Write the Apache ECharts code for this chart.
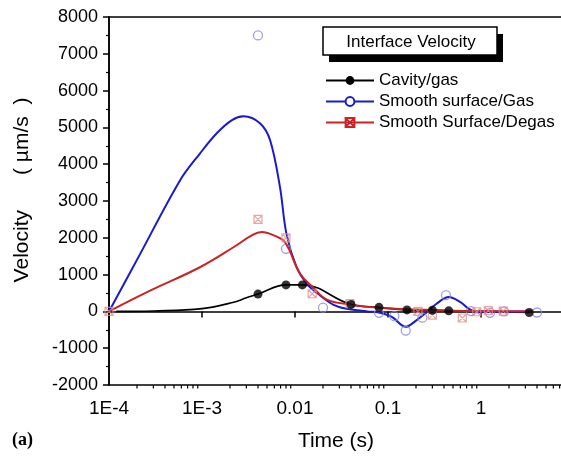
<!DOCTYPE html>
<html>
<head>
<meta charset="utf-8">
<script src="https://cdn.jsdelivr.net/npm/echarts@6/dist/echarts.min.js"></script>
<style>
  html, body { margin: 0; padding: 0; background: #fff; }
  #chart { width: 561px; height: 458px; }
</style>
</head>
<body>
<div id="chart"></div>
<script>
// Tick labels of the logarithmic time axis
const xTickValues = [1e-4, 1e-3, 0.01, 0.1, 1];
const xTickLabels = ['1E-4', '1E-3', '0.01', '0.1', '1'];
const minorMultipliers = [2, 3, 4, 5, 6, 7, 8, 9];
const minorDecades = [1e-4, 1e-3, 0.01, 0.1, 1];

// Cavity/gas: smooth rise, then measured points joined by the line
const cavityLead = [[1.2e-4, 0], [3e-4, 12], [1e-3, 75], [2.2e-3, 250], [3e-3, 370]];
const cavityPts = [[0.004, 470], [0.008, 720], [0.012, 720], [0.04, 190], [0.08, 110],
                   [0.16, 40], [0.3, 30], [0.45, 15], [3.3, -30]];

// Smooth surface/Gas: fitted curve and measured points
const gasFit = [[1e-4, 0], [2.15e-4, 1550], [5.8e-4, 3560], [9.5e-4, 4290], [1.44e-3, 4840],
                [2.1e-3, 5200], [2.8e-3, 5300], [4.2e-3, 5110], [5.4e-3, 4650], [6.9e-3, 3370],
                [8.1e-3, 2100], [0.0104, 1200], [0.0134, 750], [0.0186, 435], [0.026, 180],
                [0.036, 73], [0.06, 0], [0.08, -30], [0.11, -150], [0.155, -420], [0.2, -250],
                [0.25, -60], [0.33, 200], [0.45, 390], [0.6, 250], [0.75, 60], [0.9, -20],
                [1.3, -10], [2, 0], [3.5, 0]];
const gasPts = [[0.004, 7500], [0.008, 1700], [0.02, 100], [0.08, -40], [0.117, -130],
                [0.155, -520], [0.234, -170], [0.42, 440], [0.78, 10], [1.25, -40],
                [1.77, 0], [4, -30]];

// Smooth Surface/Degas: fitted curve and measured points
const degasFit = [[1e-4, 0], [2.8e-4, 570], [9.5e-4, 1200], [2.2e-3, 1750], [3.5e-3, 2080],
                  [4.4e-3, 2155], [5.9e-3, 2065], [7.8e-3, 1880], [0.0113, 1030], [0.0157, 650],
                  [0.022, 320], [0.039, 190], [0.08, 100], [0.2, 50], [0.5, 20], [1, 10], [3.5, 0]];
const degasPts = [[1e-4, 0], [0.004, 2500], [0.008, 2000], [0.0153, 480], [0.039, 210],
                  [0.21, 0], [0.3, -100], [0.63, -180], [0.9, -10], [1.2, 20], [1.73, 10]];

const FONT = "'Liberation Sans', Arial, sans-serif";
const crossSquare = 'path://M0,0H10V10H0Z M0,0L10,10 M10,0L0,10';

const minorTicks = [];
minorDecades.forEach(d => minorMultipliers.forEach(m => minorTicks.push([d * m, 0])));

const chart = echarts.init(document.getElementById('chart'), null, { renderer: 'canvas' });

chart.setOption({
  animation: false,
  backgroundColor: '#fff',
  grid: {
    left: 109, top: 17, width: 558, bottom: 73,
    outerBoundsMode: 'none', containLabel: false,
    show: true, borderColor: '#000', borderWidth: 1.5
  },
  xAxis: {
    type: 'log', logBase: 10, min: 1e-4, max: 100, splitNumber: 6,
    axisLine: { lineStyle: { color: '#000', width: 1.5 } },
    axisTick: { length: 6, lineStyle: { color: '#000', width: 1.5 } },
    splitLine: { show: false },
    axisLabel: {
      color: '#000', fontFamily: FONT, fontSize: 19, margin: 14,
      formatter: v => {
        const i = xTickValues.findIndex(t => Math.abs(Math.log10(t) - Math.log10(v)) < 1e-6);
        return i >= 0 ? xTickLabels[i] : '';
      }
    }
  },
  yAxis: {
    type: 'value', min: -2000, max: 8000, interval: 1000,
    axisLine: { show: true, lineStyle: { color: '#000', width: 1.5 } },
    axisTick: { show: true, length: 6, lineStyle: { color: '#000', width: 1.5 } },
    minorTick: { show: true, splitNumber: 2, length: 3, lineStyle: { color: '#000', width: 1.2 } },
    splitLine: { show: false },
    axisLabel: { color: '#000', fontFamily: FONT, fontSize: 18, margin: 11, formatter: v => String(v) }
  },
  legend: {
    orient: 'vertical', left: 325, top: 72, padding: 0,
    itemWidth: 48, itemHeight: 11, itemGap: 4,
    textStyle: { color: '#000', fontFamily: FONT, fontSize: 17 },
    data: ['Cavity/gas', 'Smooth surface/Gas', 'Smooth Surface/Degas']
  },
  graphic: [
    { type: 'rect', shape: { x: 329, y: 34, width: 174, height: 28 }, style: { fill: '#000' }, z: 100 },
    { type: 'rect', shape: { x: 323, y: 27, width: 174, height: 28 },
      style: { fill: '#fff', stroke: '#000', lineWidth: 1.5 }, z: 101 },
    { type: 'text', x: 411, y: 42, z: 102,
      style: { text: 'Interface Velocity', fill: '#000', font: '17px ' + FONT, align: 'center', verticalAlign: 'middle' } },
    { type: 'text', x: 22, y: 190, rotation: Math.PI / 2,
      style: { text: 'Velocity      ( \u00b5m/s  )', fill: '#000', font: '21px ' + FONT, align: 'center', verticalAlign: 'middle' } },
    { type: 'text', x: 336, y: 441,
      style: { text: 'Time (s)', fill: '#000', font: '21px ' + FONT, align: 'center', verticalAlign: 'middle' } },
    { type: 'text', x: 12, y: 440,
      style: { text: '(a)', fill: '#000', font: "bold 18px 'Liberation Serif', 'Times New Roman', serif", align: 'left', verticalAlign: 'middle' } }
  ],
  series: [
    {
      name: 'Cavity/gas', type: 'line', smooth: 0.4, showSymbol: false,
      symbol: 'circle', symbolSize: 9,
      itemStyle: { color: '#000' }, lineStyle: { color: '#000', width: 1.6 },
      data: cavityLead.concat(cavityPts), z: 3
    },
    {
      name: 'Cavity/gas', type: 'scatter', symbol: 'circle', symbolSize: 9,
      itemStyle: { color: '#000' }, data: cavityPts, z: 6
    },
    {
      name: 'Smooth surface/Gas', type: 'line', smooth: 0.35, showSymbol: false,
      symbol: 'circle', symbolSize: 9,
      itemStyle: { color: '#fff', borderColor: '#1a1acc', borderWidth: 1.3 },
      lineStyle: { color: '#1a1acc', width: 2 },
      data: gasFit, z: 4
    },
    {
      name: 'Smooth surface/Gas', type: 'scatter', symbol: 'circle', symbolSize: 9,
      itemStyle: { color: 'rgba(255,255,255,0)', borderColor: '#8a8ae0', borderWidth: 1.3 },
      data: gasPts, z: 4
    },
    {
      name: 'Smooth Surface/Degas', type: 'line', smooth: 0.4, showSymbol: false,
      symbol: crossSquare, symbolSize: 8,
      itemStyle: { color: 'rgba(255,255,255,0)', borderColor: '#cc2222', borderWidth: 1.2 },
      lineStyle: { color: '#cc2222', width: 2 },
      data: degasFit, z: 5
    },
    {
      name: 'Smooth Surface/Degas', type: 'scatter', symbol: crossSquare, symbolSize: 8,
      itemStyle: { color: 'rgba(255,255,255,0)', borderColor: '#e09090', borderWidth: 1.2 },
      data: degasPts, z: 5
    },
    {
      // minor ticks of the log axis (2..9 within each decade)
      type: 'custom', silent: true, clip: false, z: 10,
      data: minorTicks,
      renderItem: (params, api) => {
        const p = api.coord([api.value(0), 0]);
        const yb = params.coordSys.y + params.coordSys.height;
        return {
          type: 'line',
          shape: { x1: p[0], y1: yb, x2: p[0], y2: yb + 3.5 },
          style: { stroke: '#000', lineWidth: 1.2 }
        };
      }
    }
  ]
});
</script>
</body>
</html>
